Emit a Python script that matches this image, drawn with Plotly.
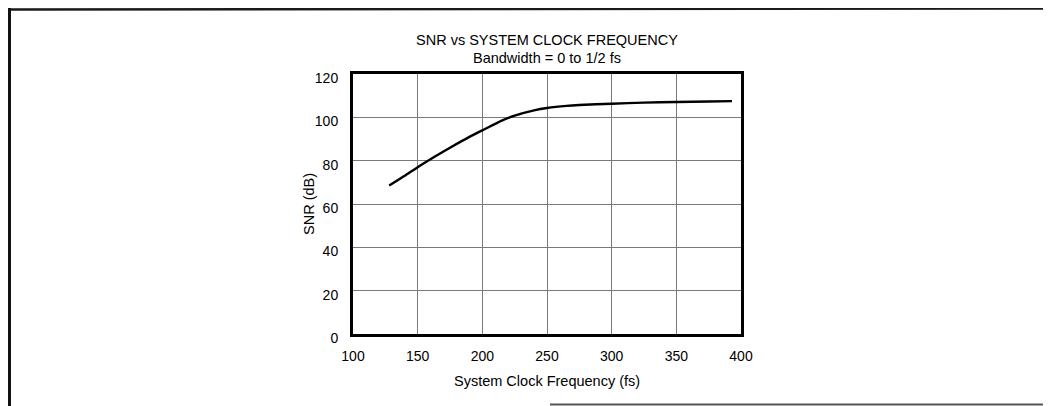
import plotly.graph_objects as go

# Datos
frecuencia = [128, 140, 150, 165, 175, 190, 200, 215, 225, 240, 250, 265, 275, 300, 325, 350, 375, 393]
snr_db = [68.5, 73.0, 77.0, 82.5, 86.0, 91.0, 94.0, 98.5, 100.8, 103.2, 104.3, 105.3, 105.7, 106.3, 106.8, 107.1, 107.3, 107.5]

x_ticks = [100, 150, 200, 250, 300, 350, 400]
y_ticks = [0, 20, 40, 60, 80, 100, 120]

# Tamaño de la figura (la página tiene 8 px de margen en el body)
ANCHO, ALTO = 1043, 398
M_IZQ, M_DER, M_SUP, M_INF = 345, 310, 66, 72
ANCHO_P = ANCHO - M_IZQ - M_DER
ALTO_P = ALTO - M_SUP - M_INF


def px_x(x):
    # pixel horizontal -> coordenada paper
    return (x - M_IZQ) / ANCHO_P


def px_y(y):
    # pixel vertical (desde arriba) -> coordenada paper
    return (ALTO - M_INF - y) / ALTO_P


fuente = dict(family="Liberation Sans, Arial, sans-serif", size=14.5, color="black")
fuente_ticks = dict(family="Liberation Sans, Arial, sans-serif", size=14, color="black")

fig = go.Figure()

fig.add_trace(go.Scatter(
    x=frecuencia,
    y=snr_db,
    mode="lines",
    line=dict(color="black", width=2.4, shape="spline", smoothing=0.6),
    showlegend=False,
))

fig.update_layout(
    width=ANCHO,
    height=ALTO,
    margin=dict(l=M_IZQ, r=M_DER, t=M_SUP, b=M_INF),
    plot_bgcolor="white",
    paper_bgcolor="white",
    font=fuente,
    showlegend=False,
)

fig.update_xaxes(
    range=[100, 400],
    tickvals=x_ticks,
    tickfont=fuente_ticks,
    showgrid=True, gridcolor="#7a7a7a", gridwidth=1,
    showline=True, linecolor="black", linewidth=3, mirror=True,
    ticks="", ticklabelstandoff=7,
    zeroline=False,
)

fig.update_yaxes(
    range=[0, 120],
    tickvals=y_ticks,
    tickfont=fuente_ticks,
    showgrid=True, gridcolor="#7a7a7a", gridwidth=1,
    showline=True, linecolor="black", linewidth=3, mirror=True,
    ticks="", ticklabelstandoff=9, ticklabelshift=4,
    zeroline=False,
)

# Títulos y etiquetas de ejes
fig.add_annotation(text="SNR vs SYSTEM CLOCK FREQUENCY", xref="paper", yref="paper",
                   x=0.5, y=px_y(32), yanchor="middle", showarrow=False, font=fuente)
fig.add_annotation(text="Bandwidth = 0 to 1/2 fs", xref="paper", yref="paper",
                   x=0.5, y=px_y(49.5), yanchor="middle", showarrow=False, font=fuente)
fig.add_annotation(text="System Clock Frequency (fs)", xref="paper", yref="paper",
                   x=0.5, y=px_y(373), yanchor="middle", showarrow=False, font=fuente)
fig.add_annotation(text="SNR (dB)", xref="paper", yref="paper", textangle=-90,
                   x=px_x(301), y=0.5, xanchor="center", yanchor="middle",
                   showarrow=False, font=fuente)

# Marco exterior de la página
fig.add_shape(type="line", xref="paper", yref="paper",
              x0=px_x(0), x1=px_x(ANCHO), y0=px_y(1.5), y1=px_y(0.5),
              line=dict(color="#1a1a1a", width=2.5))
fig.add_shape(type="line", xref="paper", yref="paper",
              x0=px_x(1.5), x1=px_x(1.5), y0=px_y(0), y1=px_y(ALTO),
              line=dict(color="#111111", width=3))
fig.add_shape(type="line", xref="paper", yref="paper",
              x0=px_x(542), x1=px_x(ANCHO), y0=px_y(396.5), y1=px_y(396.5),
              line=dict(color="#555555", width=2))

fig.write_html("out.html")
